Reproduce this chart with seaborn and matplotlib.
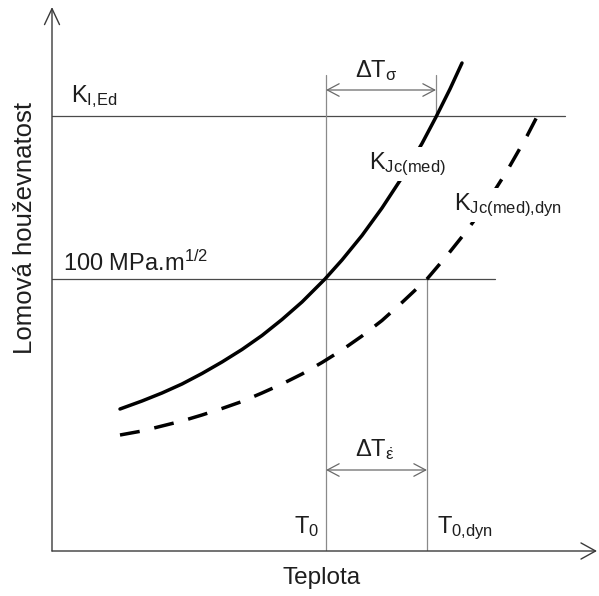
import numpy as np
import pandas as pd
import matplotlib
matplotlib.use("Agg")
import matplotlib.pyplot as plt
import seaborn as sns

# ---- data (schematic units: temperature / fracture toughness) ----
temp_static = [68, 90, 110, 130, 150, 170, 190, 210, 230, 250, 273, 290, 310,
               330, 350, 370, 384, 398, 410]
k_static = [142, 150, 158, 167, 177.5, 189, 201.5, 215.5, 231.5, 249, 272, 291,
            315.5, 343, 373.5, 407.5, 434, 462, 488]
temp_dyn = [68, 90, 110, 130, 150, 170, 190, 210, 230, 250, 270, 290, 310, 330,
            350, 375, 395, 415, 435, 455, 475, 490]
k_dyn = [116, 120, 125, 130, 136, 142.5, 149.5, 158, 167, 177, 188.5, 201, 215,
         230.5, 248.5, 272, 295.5, 320.5, 348.5, 380, 415, 444]

T0 = 274
T0_dyn = 375
T_sigma = 384
K_IEd = 435
K_100 = 272

x_label = "Teplota"
y_label = "Lomová houževnatost"

# ---- style ----
sns.set_style("white")
plt.rcParams["font.family"] = ["Liberation Sans", "DejaVu Sans"]
plt.rcParams["mathtext.fontset"] = "custom"
plt.rcParams["mathtext.rm"] = "Liberation Sans"
plt.rcParams["mathtext.it"] = "Liberation Sans:italic"
plt.rcParams["mathtext.bf"] = "Liberation Sans:bold"
plt.rcParams["lines.scale_dashes"] = False

W, H = 599, 596
fig = plt.figure(figsize=(W / 100, H / 100), dpi=100)
ax = fig.add_axes([52 / W, 45 / H, 547 / W, 551 / H])
ax.set_xlim(0, 547)
ax.set_ylim(0, 551)
ax.axis("off")

df = pd.concat([
    pd.DataFrame({"T": temp_static, "K": k_static, "curve": "static"}),
    pd.DataFrame({"T": temp_dyn, "K": k_dyn, "curve": "dyn"}),
])
sns.lineplot(data=df, x="T", y="K", style="curve", estimator=None, sort=True,
             dashes={"static": "", "dyn": (14.4, 10.8)}, color="black",
             lw=2.5, legend=False, ax=ax, zorder=3)

txt_c = "#1e1e1e"
hline_c = "#4a4a4a"
vline_c = "#8a8a8a"
top_y = 476
ax.plot([0, 513], [K_IEd, K_IEd], color=hline_c, lw=0.9, zorder=1)
ax.plot([0, 443], [K_100, K_100], color=hline_c, lw=0.9, zorder=1)
ax.plot([T0, T0], [0, top_y], color=vline_c, lw=0.9, zorder=1)
ax.plot([T0_dyn, T0_dyn], [0, K_100], color=vline_c, lw=0.9, zorder=1)
ax.plot([T_sigma, T_sigma], [K_IEd, top_y], color=vline_c, lw=0.9, zorder=1)

# axes arrows
ax_c = "#3a3a3a"
ax.annotate("", xy=(545, 0), xytext=(0, 0), annotation_clip=False,
            arrowprops=dict(arrowstyle="->,head_length=1.05,head_width=0.58",
                            lw=1.0, color=ax_c, shrinkA=0, shrinkB=0,
                            mutation_scale=10))
ax.annotate("", xy=(0, 544), xytext=(0, 0), annotation_clip=False,
            arrowprops=dict(arrowstyle="->,head_length=1.15,head_width=0.54",
                            lw=1.0, color=ax_c, shrinkA=0, shrinkB=0,
                            mutation_scale=10))

# delta T arrows
for y in (461, 81):
    x2 = T_sigma if y > 200 else T0_dyn
    ax.annotate("", xy=(x2, y), xytext=(T0, y),
                arrowprops=dict(arrowstyle="<->,head_length=0.85,head_width=0.45",
                                lw=0.9, color="#6a6a6a", shrinkA=0, shrinkB=0,
                                mutation_scale=10))

fs = 17
ax.text(19, 449, r"K$_{\mathrm{I{,}Ed}}$", fontsize=fs, color=txt_c, va="baseline")
ax.text(11, 280, r"100 MPa.m$^{\mathrm{1/2}}$", fontsize=fs, color=txt_c, va="baseline")
ax.text(303, 474, r"ΔT$_{\mathrm{σ}}$", fontsize=fs, color=txt_c, va="baseline")
ax.text(303, 95, r"ΔT$_{\dot{\mathrm{ε}}}$", fontsize=fs, color=txt_c, va="baseline")
ax.text(317, 382, r"K$_{\mathrm{Jc(med)}}$", fontsize=fs, color=txt_c, va="baseline",
        zorder=5, bbox=dict(boxstyle="square,pad=0.15", fc="white", ec="none"))
ax.text(402, 341, r"K$_{\mathrm{Jc(med){,}dyn}}$", fontsize=fs, color=txt_c, va="baseline",
        zorder=5, bbox=dict(boxstyle="square,pad=0.15", fc="white", ec="none"))
ax.text(242, 18, r"T$_{\mathrm{0}}$", fontsize=fs, color=txt_c, va="baseline")
ax.text(385, 18, r"T$_{\mathrm{0{,}dyn}}$", fontsize=fs, color=txt_c, va="baseline")

fig.text(322 / W, 1 - 584 / H, x_label, fontsize=17.5, color=txt_c,
         ha="center", va="baseline")
fig.text(25 / W, 1 - 228 / H, y_label, fontsize=18.5, color=txt_c,
         ha="center", va="center", rotation=90)

fig.savefig("out.png", dpi=100, facecolor="white")
